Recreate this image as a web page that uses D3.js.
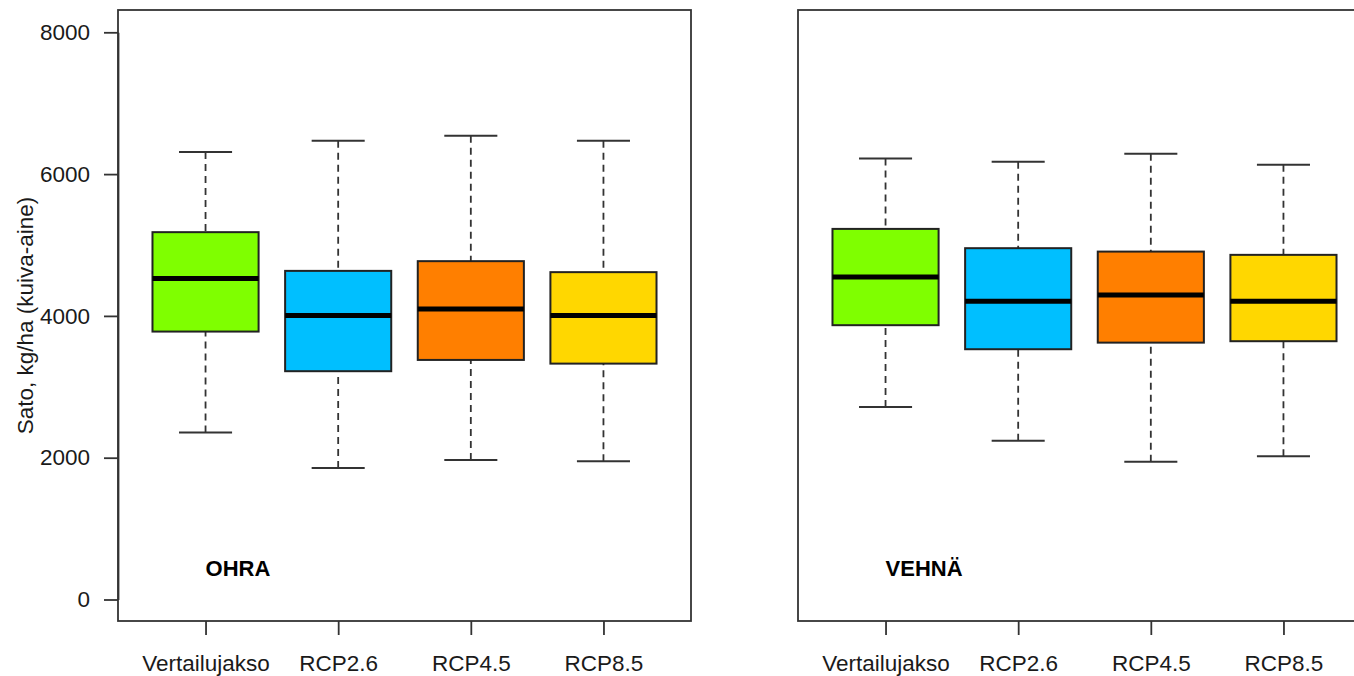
<!DOCTYPE html>
<html>
<head>
<meta charset="utf-8">
<script src="https://cdn.jsdelivr.net/npm/d3@7"></script>
<style>
  html, body { margin: 0; padding: 0; background: #fff; }
  svg { display: block; font-family: "Liberation Sans", Arial, sans-serif; }
</style>
</head>
<body>
<svg id="chart" width="1354" height="676"></svg>
<script>
// Scenario categories and box colours
const categories = ["Vertailujakso", "RCP2.6", "RCP4.5", "RCP8.5"];
const boxColors = ["#7FFF00", "#00BFFF", "#FF7F00", "#FFD700"];
const yTicks = [0, 2000, 4000, 6000, 8000];

// Barley (OHRA) yield statistics, kg/ha dry matter
const ohraMin    = [2354, 1855, 1968, 1950];
const ohraQ1     = [3779, 3220, 3379, 3327];
const ohraMedian = [4527, 4005, 4099, 4004];
const ohraQ3     = [5181, 4635, 4772, 4617];
const ohraMax    = [6310, 6469, 6540, 6469];

// Wheat (VEHNÄ) yield statistics, kg/ha dry matter
const vehnaMin    = [2716, 2240, 1944, 2020];
const vehnaQ1     = [3869, 3530, 3623, 3643];
const vehnaMedian = [4550, 4207, 4296, 4207];
const vehnaQ3     = [5227, 4955, 4907, 4861];
const vehnaMax    = [6220, 6173, 6286, 6131];

const panels = [
  { name: "OHRA",  left: 118, showY: true,
    min: ohraMin, q1: ohraQ1, med: ohraMedian, q3: ohraQ3, max: ohraMax },
  { name: "VEHNÄ", left: 798, showY: false,
    min: vehnaMin, q1: vehnaQ1, med: vehnaMedian, q3: vehnaQ3, max: vehnaMax }
];

const svg = d3.select("#chart");
const plotTop = 10, plotBottom = 621, plotWidth = 573;
const fontSize = 22.5;

const y = d3.scaleLinear().domain([0, 8000]).range([599.5, 32.3]);

panels.forEach(p => {
  const x = d3.scaleLinear().domain([0.34, 4.66]).range([p.left, p.left + plotWidth]);
  const g = svg.append("g");
  const unit = x(1) - x(0);
  const boxW = 0.8 * unit, capW = 0.4 * unit;

  const rows = categories.map((c, i) => ({
    i: i + 1, c, color: boxColors[i],
    min: p.min[i], q1: p.q1[i], med: p.med[i], q3: p.q3[i], max: p.max[i]
  }));

  const b = g.selectAll("g.box").data(rows).join("g").attr("class", "box");

  // dashed whiskers
  b.append("line")
    .attr("x1", d => x(d.i)).attr("x2", d => x(d.i))
    .attr("y1", d => y(d.max)).attr("y2", d => y(d.q3))
    .attr("stroke", "#333").attr("stroke-width", 1.8).attr("stroke-dasharray", "7,5");
  b.append("line")
    .attr("x1", d => x(d.i)).attr("x2", d => x(d.i))
    .attr("y1", d => y(d.min)).attr("y2", d => y(d.q1))
    .attr("stroke", "#333").attr("stroke-width", 1.8).attr("stroke-dasharray", "7,5");

  // whisker caps
  ["max", "min"].forEach(k => {
    b.append("line")
      .attr("x1", d => x(d.i) - capW / 2).attr("x2", d => x(d.i) + capW / 2)
      .attr("y1", d => y(d[k])).attr("y2", d => y(d[k]))
      .attr("stroke", "#333").attr("stroke-width", 2);
  });

  // boxes
  b.append("rect")
    .attr("x", d => x(d.i) - boxW / 2).attr("width", boxW)
    .attr("y", d => y(d.q3)).attr("height", d => y(d.q1) - y(d.q3))
    .attr("fill", d => d.color).attr("stroke", "#222").attr("stroke-width", 2);

  // medians
  b.append("line")
    .attr("x1", d => x(d.i) - boxW / 2).attr("x2", d => x(d.i) + boxW / 2)
    .attr("y1", d => y(d.med)).attr("y2", d => y(d.med))
    .attr("stroke", "#000").attr("stroke-width", 5);

  // plot frame
  g.append("rect")
    .attr("x", p.left).attr("y", plotTop)
    .attr("width", plotWidth).attr("height", plotBottom - plotTop)
    .attr("fill", "none").attr("stroke", "#333").attr("stroke-width", 1.8);

  // x axis
  const xAxis = d3.axisBottom(x)
    .tickValues([1, 2, 3, 4])
    .tickFormat(v => categories[v - 1])
    .tickSize(14).tickSizeOuter(0).tickPadding(20);
  const xa = g.append("g").attr("transform", `translate(0,${plotBottom})`).call(xAxis);
  xa.select(".domain").remove();
  xa.selectAll("line").attr("stroke", "#333").attr("stroke-width", 1.8);
  xa.selectAll("text").attr("font-size", fontSize).attr("fill", "#1a1a1a")
    .attr("font-family", "Liberation Sans, Arial, sans-serif");

  // y axis
  if (p.showY) {
    const yAxis = d3.axisLeft(y).tickValues(yTicks).tickFormat(d3.format("d"))
      .tickSize(14).tickSizeOuter(0).tickPadding(14);
    const ya = g.append("g").attr("transform", `translate(${p.left},0)`).call(yAxis);
    ya.select(".domain").attr("stroke", "#333").attr("stroke-width", 1.8);
    ya.selectAll("line").attr("stroke", "#333").attr("stroke-width", 1.8);
    ya.selectAll("text").attr("font-size", fontSize).attr("fill", "#1a1a1a")
      .attr("font-family", "Liberation Sans, Arial, sans-serif");

    svg.append("text")
      .attr("transform", `translate(33,${(plotTop + plotBottom) / 2}) rotate(-90)`)
      .attr("text-anchor", "middle")
      .attr("font-size", fontSize).attr("fill", "#1a1a1a")
      .text("Sato, kg/ha (kuiva-aine)");
  }

  // crop label
  g.append("text")
    .attr("x", x(1)).attr("y", y(330))
    .attr("font-size", 22).attr("font-weight", "bold").attr("fill", "#000")
    .text(p.name);
});
</script>
</body>
</html>
